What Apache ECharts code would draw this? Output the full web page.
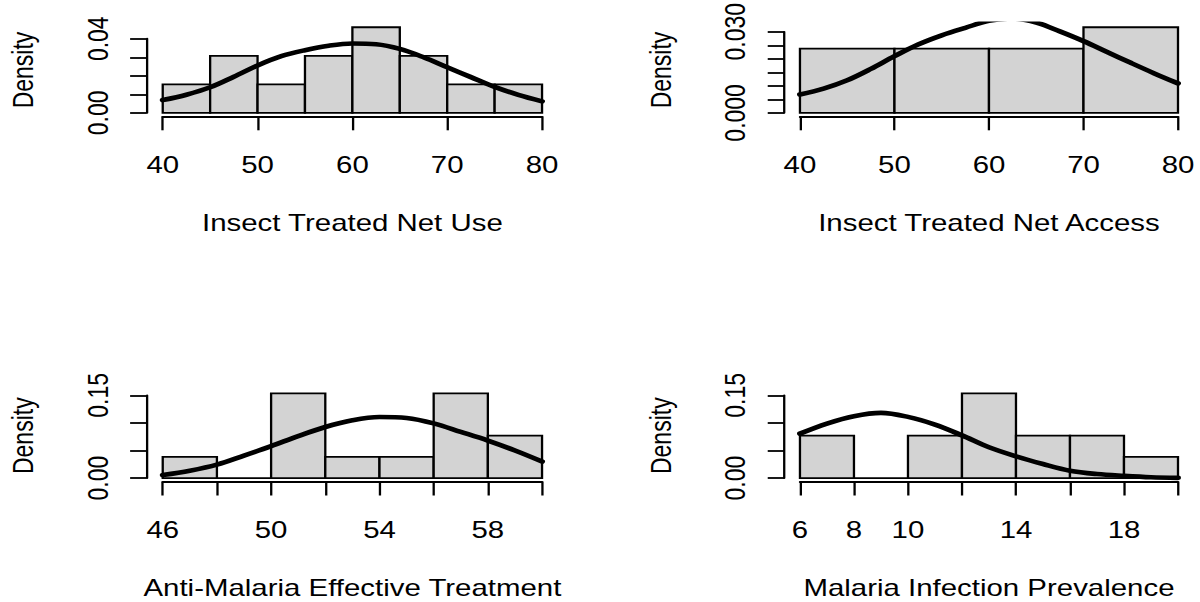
<!DOCTYPE html>
<html>
<head>
<meta charset="utf-8">
<script src="https://cdn.jsdelivr.net/npm/echarts@6/dist/echarts.min.js"></script>
<style>
  html, body { margin: 0; padding: 0; background: #ffffff; }
  #wrap { width: 1200px; height: 602px; overflow: hidden; position: relative; }
  #chart { width: 938px; height: 602px; transform-origin: 0 0; transform: scaleX(1.27932); }
</style>
</head>
<body>
<div id="wrap"><div id="chart"></div></div>
<script>
// ---------- DATA ----------
// Panel 1: Insect Treated Net Use
const useBreaks  = [40, 45, 50, 55, 60, 65, 70, 75, 80];
const useDensity = [0.0154, 0.0308, 0.0154, 0.0308, 0.0462, 0.0308, 0.0154, 0.0154];
const useCurveX  = [40, 42.5, 45, 47.5, 50, 52.5, 55, 57.5, 60, 62.5, 65, 67.5, 70, 72.5, 75, 77.5, 80];
const useCurveY  = [0.0069, 0.0098, 0.0138, 0.0195, 0.0256, 0.0306, 0.0338, 0.0362, 0.0374, 0.0370, 0.0345, 0.0300, 0.0246, 0.0193, 0.0140, 0.0097, 0.0062];
const useXTicks  = ["40", "50", "60", "70", "80"];
const useYTicks  = ["0.00", "0.04"];

// Panel 2: Insect Treated Net Access
const accBreaks  = [40, 50, 60, 70, 80];
const accDensity = [0.0231, 0.0231, 0.0231, 0.0308];
const accCurveX  = [40, 42.5, 45, 47.5, 50, 52.5, 55, 57.5, 60, 62.5, 65, 67.5, 70, 72.5, 75, 77.5, 80];
const accCurveY  = [0.0066, 0.0087, 0.0117, 0.0158, 0.0204, 0.0246, 0.0279, 0.0306, 0.0331, 0.0339, 0.0325, 0.0293, 0.0258, 0.0219, 0.0180, 0.0142, 0.0106];
const accXTicks  = ["40", "50", "60", "70", "80"];
const accYTicks  = ["0.000", "0.030"];

// Panel 3: Anti-Malaria Effective Treatment
const amtBreaks  = [46, 48, 50, 52, 54, 56, 58, 60];
const amtDensity = [0.0385, 0, 0.1538, 0.0385, 0.0385, 0.1538, 0.0769];
const amtCurveX  = [46, 47, 48, 49, 50, 51, 52, 53, 54, 55, 56, 57, 58, 59, 60];
const amtCurveY  = [0.0055, 0.0134, 0.0244, 0.0408, 0.0579, 0.0762, 0.0927, 0.1049, 0.1108, 0.1090, 0.0992, 0.0838, 0.0680, 0.0500, 0.0300];
const amtXTicks  = ["46", "50", "54", "58"];
const amtYTicks  = ["0.00", "0.15"];

// Panel 4: Malaria Infection Prevalence
const mipBreaks  = [6, 8, 10, 12, 14, 16, 18, 20];
const mipDensity = [0.0769, 0, 0.0769, 0.1538, 0.0769, 0.0769, 0.0385];
const mipCurveX  = [6, 7, 8, 9, 10, 11, 12, 13, 14, 15, 16, 17, 18, 19, 20];
const mipCurveY  = [0.0806, 0.0989, 0.1123, 0.1183, 0.1110, 0.0970, 0.0775, 0.0560, 0.0396, 0.0256, 0.0134, 0.0073, 0.0040, 0.0015, 0.0005];
const mipXTicks  = ["6", "8", "10", "14", "18"];
const mipYTicks  = ["0.00", "0.15"];

// ---------- LAYOUT / STYLE ----------
const FONT = "'Liberation Sans', Arial, Helvetica, sans-serif";
const FS = 23;
const LW = 1.8;
const layout = {
  colLeft: [127.2, 625.3], colWidth: [296.5, 295.5], yAxisX: [114.7, 613.1],
  rowTop: [23.8, 389.9], rowHeight: [92.5, 91.6]
};

const panels = [
  { breaks: useBreaks, density: useDensity, cx: useCurveX, cy: useCurveY, title: "Insect Treated Net Use",
    xInt: 10, xShow: useXTicks, yLast: 0.04, yInt: 0.01, yShow: useYTicks, yDec: 2, col: 0, row: 0 },
  { breaks: accBreaks, density: accDensity, cx: accCurveX, cy: accCurveY, title: "Insect Treated Net Access",
    xInt: 10, xShow: accXTicks, yLast: 0.03, yInt: 0.005, yShow: accYTicks, yDec: 3, col: 1, row: 0 },
  { breaks: amtBreaks, density: amtDensity, cx: amtCurveX, cy: amtCurveY, title: "Anti-Malaria Effective Treatment",
    xInt: 2, xShow: amtXTicks, yLast: 0.15, yInt: 0.05, yShow: amtYTicks, yDec: 2, col: 0, row: 1 },
  { breaks: mipBreaks, density: mipDensity, cx: mipCurveX, cy: mipCurveY, title: "Malaria Infection Prevalence",
    xInt: 2, xShow: mipXTicks, yLast: 0.15, yInt: 0.05, yShow: mipYTicks, yDec: 2, col: 1, row: 1 }
];

const grid = [], xAxis = [], yAxis = [], series = [];
const txt = { color: '#000', fontFamily: FONT, fontSize: FS };

panels.forEach((p, i) => {
  const maxBar = Math.max.apply(null, p.density);
  const yMax = maxBar * 1.04, yMin = -maxBar * 0.04;   // R plot region extension
  const top = layout.rowTop[p.row], H = layout.rowHeight[p.row];
  const left = layout.colLeft[p.col], W = layout.colWidth[p.col];
  const pxOf = v => top + (yMax - v) / (yMax - yMin) * H;

  // data grid
  const gi = grid.length;
  grid.push({ left: left, top: top, width: W, height: H });
  xAxis.push({
    type: 'value', gridIndex: gi, min: p.breaks[0], max: p.breaks[p.breaks.length - 1], interval: p.xInt,
    axisLine: { show: true, onZero: false, lineStyle: { color: '#000', width: LW } },
    axisTick: { show: true, length: 14, lineStyle: { color: '#000', width: LW } },
    axisLabel: Object.assign({ margin: 37, formatter: v => { const s = String(Math.round(v)); return p.xShow.indexOf(s) >= 0 ? s : ''; } }, txt),
    splitLine: { show: false },
    name: p.title, nameLocation: 'middle', nameGap: 95, nameTextStyle: txt
  });
  yAxis.push({
    type: 'value', gridIndex: gi, min: yMin, max: yMax,
    axisLine: { show: false }, axisTick: { show: false }, axisLabel: { show: false }, splitLine: { show: false },
    name: 'Density', nameLocation: 'middle', nameGap: 97.5, nameTextStyle: txt
  });
  series.push({
    type: 'custom', xAxisIndex: gi, yAxisIndex: gi,
    data: p.density.map((d, j) => [p.breaks[j], p.breaks[j + 1], d]),
    encode: { x: [0, 1], y: 2 },
    renderItem: (params, api) => {
      const a = api.coord([api.value(0), api.value(2)]);
      const b = api.coord([api.value(1), 0]);
      return { type: 'rect', shape: { x: a[0], y: a[1], width: b[0] - a[0], height: b[1] - a[1] },
               style: { fill: '#d3d3d3', stroke: '#000', lineWidth: LW } };
    },
    silent: true, animation: false
  });
  series.push({
    type: 'line', xAxisIndex: gi, yAxisIndex: gi,
    data: p.cx.map((x, j) => [x, p.cy[j]]),
    smooth: 0.35, showSymbol: false, clip: true,
    lineStyle: { color: '#000', width: 4.6, cap: 'round', join: 'round' },
    silent: true, animation: false
  });

  // y-axis grid (axis line spans 0 .. last tick, as in R)
  const ga = grid.length;
  const yTopPx = pxOf(p.yLast), yZeroPx = pxOf(0);
  grid.push({ left: layout.yAxisX[p.col], top: yTopPx, width: 1, height: yZeroPx - yTopPx });
  xAxis.push({ type: 'value', gridIndex: ga, show: false, min: 0, max: 1 });
  yAxis.push({
    type: 'value', gridIndex: ga, min: 0, max: p.yLast, interval: p.yInt,
    axisLine: { show: true, lineStyle: { color: '#000', width: LW } },
    axisTick: { show: true, length: 13, lineStyle: { color: '#000', width: LW } },
    axisLabel: Object.assign({ rotate: 90, margin: 27, formatter: v => { const s = v.toFixed(p.yDec); return p.yShow.indexOf(s) >= 0 ? s : ''; } }, txt),
    splitLine: { show: false }
  });
});

const chart = echarts.init(document.getElementById('chart'), null, { renderer: 'svg', width: 938, height: 602 });
chart.setOption({ animation: false, backgroundColor: '#ffffff', grid, xAxis, yAxis, series });
</script>
</body>
</html>
